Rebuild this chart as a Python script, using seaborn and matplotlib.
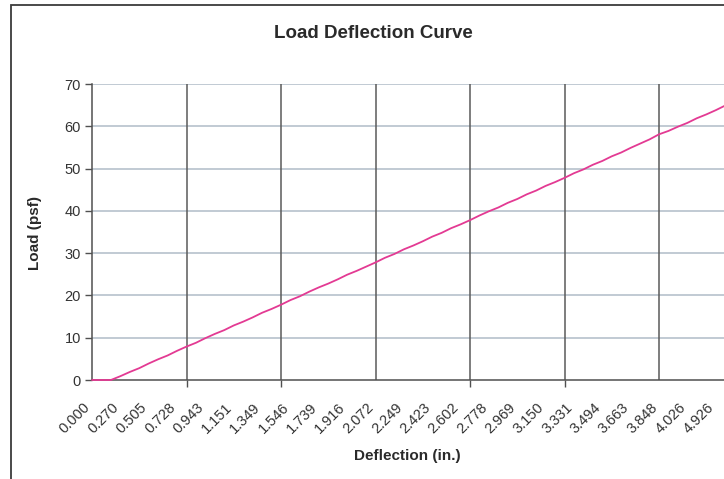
import numpy as np
import pandas as pd
import matplotlib
matplotlib.use("Agg")
import matplotlib.pyplot as plt
import matplotlib.transforms as mtransforms
from matplotlib.patches import Rectangle
import seaborn as sns

# Load readings, one per recorded row (psf)
load_psf = [
    0, 0, 0, 0.9, 1.9, 2.8, 3.9, 4.9, 5.8, 6.9,
    7.9, 8.8, 9.9, 10.9, 11.8, 12.9, 13.8, 14.8, 15.9, 16.8,
    17.8, 18.9, 19.8, 20.9, 21.9, 22.8, 23.8, 24.9, 25.8, 26.8,
    27.8, 28.9, 29.8, 30.9, 31.8, 32.8, 33.9, 34.8, 35.9, 36.8,
    37.8, 38.9, 39.9, 40.8, 41.9, 42.8, 43.9, 44.8, 45.9, 46.8,
    47.8, 48.9, 49.8, 50.9, 51.8, 52.9, 53.8, 54.9, 55.9, 56.9,
    58.1, 58.9, 59.9, 60.8, 61.9, 62.8, 63.8, 64.9, 65.8,
]

# Deflection shown on the category axis (every third row)
deflection_labels = [
    "0.000", "0.270", "0.505", "0.728", "0.943", "1.151", "1.349", "1.546",
    "1.739", "1.916", "2.072", "2.249", "2.423", "2.602", "2.778", "2.969",
    "3.150", "3.331", "3.494", "3.663", "3.848", "4.026", "4.926",
]
label_every = 3
grid_every = 10
y_ticks = [0, 10, 20, 30, 40, 50, 60, 70]

df = pd.DataFrame({"row": np.arange(len(load_psf)), "load": load_psf})

sns.set_theme(style="white")
plt.rcParams["font.family"] = ["Liberation Sans", "DejaVu Sans"]

W, H = 724, 479
fig = plt.figure(figsize=(W / 100, H / 100), dpi=100)
fig.patch.set_facecolor("white")

# chart frame (runs off the right and bottom edges)
fig.patches.append(Rectangle((11 / W, -0.2), 1.5, 1.2 - 5 / H,
                             transform=fig.transFigure, fill=False,
                             edgecolor="#3c3c3c", linewidth=1.3, zorder=0))

ax_left, ax_right = 92, 734.6
ax_top, ax_bottom = 84, 380
ax = fig.add_axes([ax_left / W, (H - ax_bottom) / H,
                   (ax_right - ax_left) / W, (ax_bottom - ax_top) / H])
ax.set_facecolor("none")

n = len(load_psf)
ax.set_xlim(0, n - 1)
ax.set_ylim(0, 70)

# horizontal gridlines
for y in y_ticks[1:]:
    ax.axhline(y, color="#b0bcc8", linewidth=1.1, zorder=1)
# vertical gridlines at every tenth row
for x in range(grid_every, n, grid_every):
    ax.axvline(x, color="#5a5a5a", linewidth=1.1, zorder=1)

sns.lineplot(data=df, x="row", y="load", ax=ax, color="#e33a93",
             linewidth=1.3, zorder=4, clip_on=False)

for side in ["top", "right"]:
    ax.spines[side].set_visible(False)
for side in ["left", "bottom"]:
    ax.spines[side].set_color("#505050")
    ax.spines[side].set_linewidth(1.1)
    ax.spines[side].set_zorder(2)

ax.set_yticks(y_ticks)
ax.set_yticklabels([str(v) for v in y_ticks], fontsize=10.5, color="#333333")
ax.tick_params(axis="y", which="major", direction="out", length=5,
               width=1, color="#505050", pad=3, left=True)

# major ticks carry the deflection labels, tick marks every tenth row
label_pos = list(range(0, label_every * len(deflection_labels), label_every))
ax.set_xticks(label_pos)
ax.set_xticklabels(deflection_labels, fontsize=10.5, color="#333333",
                   rotation=45, ha="right", va="center", rotation_mode="anchor")
ax.tick_params(axis="x", which="major", length=0, pad=18)
ax.set_xticks(list(range(0, n, grid_every)), minor=True)
ax.tick_params(axis="x", which="minor", direction="out", length=5,
               width=1, color="#505050", bottom=True)

offset = mtransforms.ScaledTranslation(-4 / 100, 0, fig.dpi_scale_trans)
for lbl in ax.get_xticklabels():
    lbl.set_transform(lbl.get_transform() + offset)

ax.set_xlabel("")
ax.set_ylabel("")

fig.text(373 / W, 1 - 33 / H, "Load Deflection Curve", ha="center",
         va="center", fontsize=13.5, fontweight="bold", color="#2a2a2a")
fig.text(407 / W, 1 - 456 / H, "Deflection (in.)", ha="center",
         va="center", fontsize=11, fontweight="bold", color="#2a2a2a")
fig.text(35 / W, 1 - 233 / H, "Load (psf)", ha="center", va="center",
         rotation=90, fontsize=11, fontweight="bold", color="#2a2a2a")

fig.savefig("out.png", dpi=100)
